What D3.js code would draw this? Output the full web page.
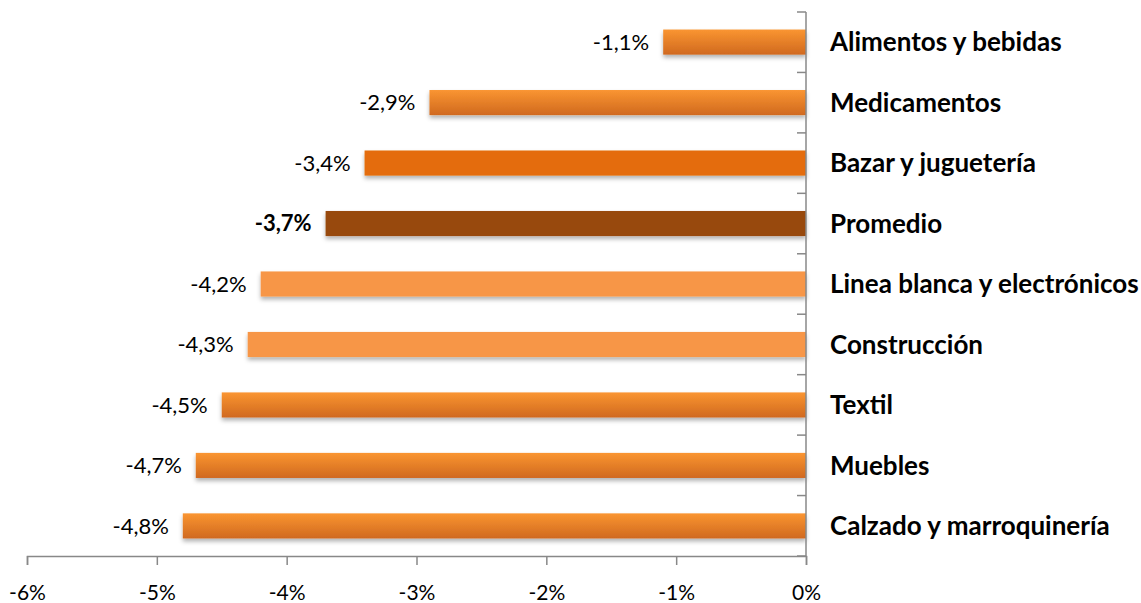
<!DOCTYPE html>
<html>
<head>
<meta charset="utf-8">
<script src="https://cdn.jsdelivr.net/npm/d3@7"></script>
<style>
  body { margin: 0; background: #fff; }
  text { font-family: Lato, "Open Sans", sans-serif; }
</style>
</head>
<body>
<div id="chart"></div>
<script>
const categories = ["Alimentos y bebidas", "Medicamentos", "Bazar y juguetería", "Promedio",
  "Linea blanca y electrónicos", "Construcción", "Textil", "Muebles", "Calzado y marroquinería"];
const values = [-1.1, -2.9, -3.4, -3.7, -4.2, -4.3, -4.5, -4.7, -4.8];
const fills = ["url(#grad)", "url(#grad)", "#E46C0A", "#984807", "#F79646", "#F79646",
  "url(#grad)", "url(#grad)", "url(#grad)"];
const ticks = [-6, -5, -4, -3, -2, -1, 0];

(function() {
  const width = 1141;
  const height = 603;
  const svg = d3.select("#chart")
    .append("svg")
    .attr("width", width)
    .attr("height", height);

  const defs = svg.append("defs");
  const grad = defs.append("linearGradient")
    .attr("id", "grad")
    .attr("x1", 0).attr("y1", 0).attr("x2", 0).attr("y2", 1);
  grad.append("stop").attr("offset", "0%").attr("stop-color", "#FA9531");
  grad.append("stop").attr("offset", "100%").attr("stop-color", "#D0691F");

  const shadow = defs.append("filter").attr("id", "shadow")
    .attr("x", "-5%").attr("y", "-20%").attr("width", "110%").attr("height", "160%");
  shadow.append("feDropShadow")
    .attr("dx", 0).attr("dy", 3).attr("stdDeviation", 2)
    .attr("flood-color", "#000").attr("flood-opacity", 0.3);

  const x = d3.scaleLinear().domain([-6, 0]).range([27, 806]);
  const y = d3.scaleBand().domain(categories).range([12, 556]).paddingInner(0.585).paddingOuter(0.29);

  // bars
  svg.selectAll("rect.bar")
    .data(values)
    .enter().append("rect")
    .attr("class", "bar")
    .attr("x", d => x(d))
    .attr("y", (d, i) => y(categories[i]))
    .attr("width", d => x(0) - x(d))
    .attr("height", y.bandwidth())
    .attr("fill", (d, i) => fills[i])
    .attr("filter", "url(#shadow)");

  // x axis
  const xAxis = svg.append("g")
    .attr("transform", "translate(0,556)")
    .call(d3.axisBottom(x).tickValues(ticks).tickSize(9).tickFormat(d => d + "%"));
  xAxis.select(".domain").attr("stroke", "#888").attr("stroke-width", 1.5);
  xAxis.selectAll(".tick line").attr("stroke", "#888").attr("stroke-width", 1.5);
  xAxis.selectAll(".tick text")
    .attr("y", 29)
    .attr("dy", "0.71em")
    .attr("font-size", 21)
    .attr("fill", "#000")
    .style("font-family", "Lato, sans-serif");

  // y axis at zero
  const yTicks = d3.range(categories.length + 1).map(i => 12 + i * (544 / categories.length));
  svg.append("line")
    .attr("x1", x(0)).attr("x2", x(0))
    .attr("y1", 12).attr("y2", 556)
    .attr("stroke", "#888").attr("stroke-width", 1.5);
  svg.selectAll("line.ytick")
    .data(yTicks)
    .enter().append("line")
    .attr("class", "ytick")
    .attr("x1", x(0) - 9).attr("x2", x(0))
    .attr("y1", d => d).attr("y2", d => d)
    .attr("stroke", "#888").attr("stroke-width", 1.5);

  // category labels
  svg.selectAll("text.cat")
    .data(categories)
    .enter().append("text")
    .attr("class", "cat")
    .attr("x", 830)
    .attr("y", d => y(d) + y.bandwidth() / 2)
    .attr("dy", "0.35em")
    .attr("font-size", 26)
    .attr("font-weight", "bold")
    .attr("fill", "#000")
    .text(d => d);

  // value labels
  svg.selectAll("text.val")
    .data(values)
    .enter().append("text")
    .attr("class", "val")
    .attr("x", d => x(d) - 14)
    .attr("y", (d, i) => y(categories[i]) + y.bandwidth() / 2)
    .attr("dy", "0.35em")
    .attr("text-anchor", "end")
    .attr("font-size", 22)
    .attr("font-weight", (d, i) => categories[i] === "Promedio" ? "bold" : "normal")
    .attr("fill", "#000")
    .text(d => d.toFixed(1).replace(".", ",") + "%");
})();
</script>
</body>
</html>
